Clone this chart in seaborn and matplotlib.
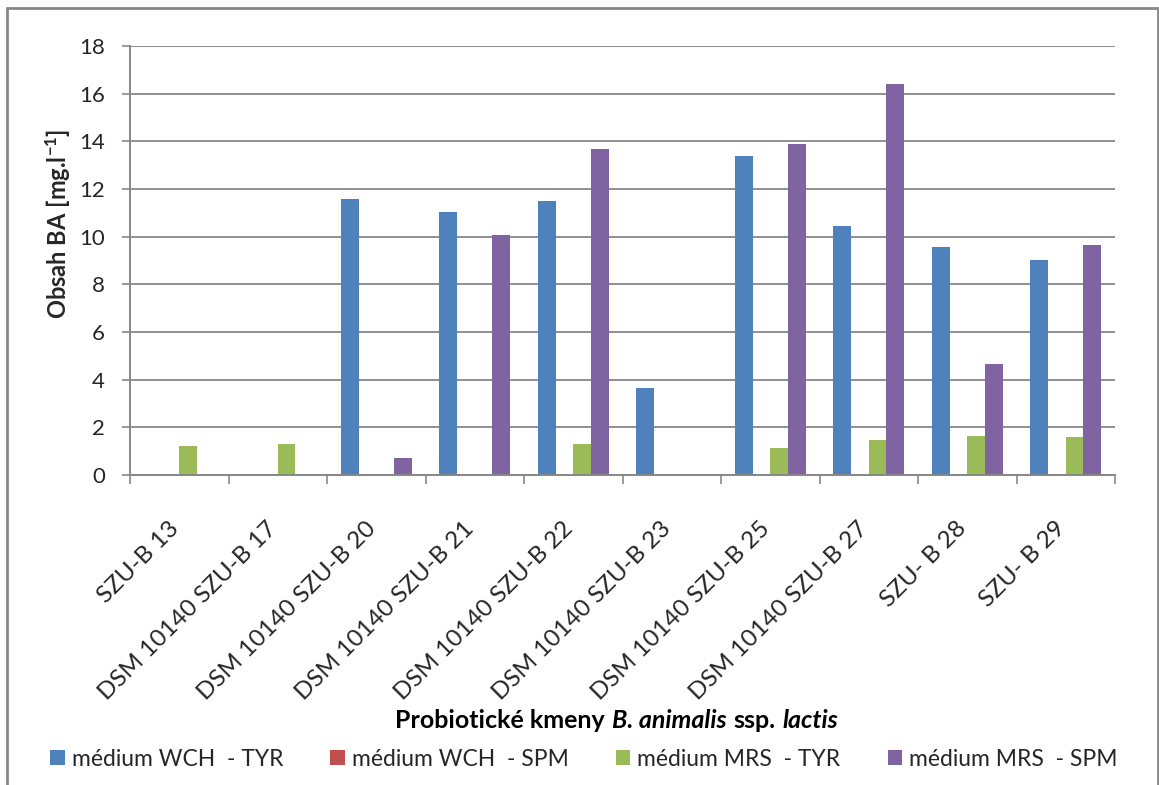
import matplotlib
matplotlib.use("Agg")
import matplotlib.pyplot as plt
import matplotlib.transforms as mtransforms
from matplotlib.patches import Rectangle, Patch
from matplotlib.offsetbox import TextArea, HPacker, AnchoredOffsetbox
import numpy as np
import pandas as pd
import seaborn as sns

# Strains (x categories)
strains = [
    "SZU-B 13",
    "DSM 10140 SZU-B 17",
    "DSM 10140 SZU-B 20",
    "DSM 10140 SZU-B 21",
    "DSM 10140 SZU-B 22",
    "DSM 10140 SZU-B 23",
    "DSM 10140 SZU-B 25",
    "DSM 10140 SZU-B 27",
    "SZU- B 28",
    "SZU- B 29",
]

# Series names
series = [
    "médium WCH  - TYR",
    "médium WCH  - SPM",
    "médium MRS  - TYR",
    "médium MRS  - SPM",
]

# Biogenic amine content [mg/l]
wch_tyr = [0.0, 0.0, 11.58, 11.05, 11.5, 3.65, 13.4, 10.45, 9.55, 9.03]
wch_spm = [0.0, 0.0, 0.0, 0.0, 0.0, 0.0, 0.0, 0.0, 0.0, 0.0]
mrs_tyr = [1.22, 1.31, 0.0, 0.0, 1.31, 0.0, 1.15, 1.47, 1.65, 1.59]
mrs_spm = [0.0, 0.0, 0.70, 10.08, 13.67, 0.0, 13.9, 16.4, 4.66, 9.65]

colors = ["#4F81BD", "#C0504D", "#9BBB59", "#8064A2"]
y_ticks = [0, 2, 4, 6, 8, 10, 12, 14, 16, 18]

df = pd.DataFrame({
    "strain": strains * 4,
    "series": sum([[s] * len(strains) for s in series], []),
    "value": wch_tyr + wch_spm + mrs_tyr + mrs_spm,
})

sns.set_theme(style="white")
plt.rcParams["font.family"] = ["Lato", "DejaVu Sans"]
plt.rcParams["mathtext.fontset"] = "custom"
plt.rcParams["mathtext.rm"] = "Lato:bold"
plt.rcParams["mathtext.bf"] = "Lato:bold"
plt.rcParams["mathtext.it"] = "Lato:bold:italic"

W, H, DPI = 1159, 785, 100
fig = plt.figure(figsize=(W / DPI, H / DPI), dpi=DPI, facecolor="white")
ax = fig.add_axes([130 / W, 1 - 475 / H, (1115 - 130) / W, (475 - 46) / H])

sns.barplot(
    data=df, x="strain", y="value", hue="series",
    hue_order=series, order=strains, palette=colors,
    width=0.72, saturation=1, linewidth=0, ax=ax, legend=False,
)

grey = "#878787"
ax.set_ylim(0, 18)
ax.set_xlim(-0.5, len(strains) - 0.5)
ax.set_yticks(y_ticks)
ax.set_yticklabels([str(t) for t in y_ticks], fontsize=16)
ax.yaxis.grid(True, color=grey, linewidth=1.3)
ax.xaxis.grid(False)
ax.set_axisbelow(True)

for side in ["top", "right"]:
    ax.spines[side].set_visible(False)
for side in ["left", "bottom"]:
    ax.spines[side].set_color(grey)
    ax.spines[side].set_linewidth(1.4)

ax.tick_params(axis="y", which="major", direction="out", length=6, width=1.2,
               color=grey, left=True, pad=12)
ax.set_xticks(range(len(strains)))
ax.set_xticks(np.arange(-0.5, len(strains)), minor=True)
ax.tick_params(axis="x", which="major", length=0, pad=36)
ax.tick_params(axis="x", which="minor", direction="out", length=6.5, width=1.2,
               color=grey, bottom=True)
ax.set_xticklabels(strains, rotation=45, ha="right", va="center",
                   rotation_mode="anchor", fontsize=17.5)
shift = mtransforms.ScaledTranslation(-4 / DPI, 0, fig.dpi_scale_trans)
for lbl in ax.get_xticklabels():
    lbl.set_transform(lbl.get_transform() + shift)

ax.set_xlabel("")
ax.set_ylabel(r"Obsah BA [mg.l$^{\mathbf{-1}}$]", fontsize=17, fontweight="bold")
ax.yaxis.set_label_coords(-0.058, 0.586)

# x-axis title with italic species name
parts = [("Probiotické kmeny", "normal"), ("B. animalis", "italic"),
         ("ssp.", "normal"), ("lactis", "italic")]
boxes = [TextArea(t, textprops=dict(fontsize=18, fontweight="bold", fontstyle=st,
                                    color="black")) for t, st in parts]
pack = HPacker(children=boxes, align="baseline", pad=0, sep=5)
anchored = AnchoredOffsetbox(loc="center", child=pack, pad=0, borderpad=0,
                             frameon=False, bbox_to_anchor=(617 / W, 1 - 721 / H),
                             bbox_transform=fig.transFigure)
fig.add_artist(anchored)

# legend
handles = [Patch(facecolor=c, edgecolor="none") for c in colors]
fig.legend(handles, series, loc="center", bbox_to_anchor=(584 / W, 1 - 759 / H),
           ncol=4, frameon=False, fontsize=16.5, handlelength=0.62, handleheight=0.62,
           handletextpad=0.32, columnspacing=2.05, borderaxespad=0, borderpad=0)

# outer chart frame
fig.add_artist(Rectangle((7 / W, -0.02), (1158 - 7) / W, 1.02 - 8 / H,
                         transform=fig.transFigure, fill=False,
                         edgecolor=grey, linewidth=2))

fig.savefig("out.png", dpi=DPI, facecolor="white")
